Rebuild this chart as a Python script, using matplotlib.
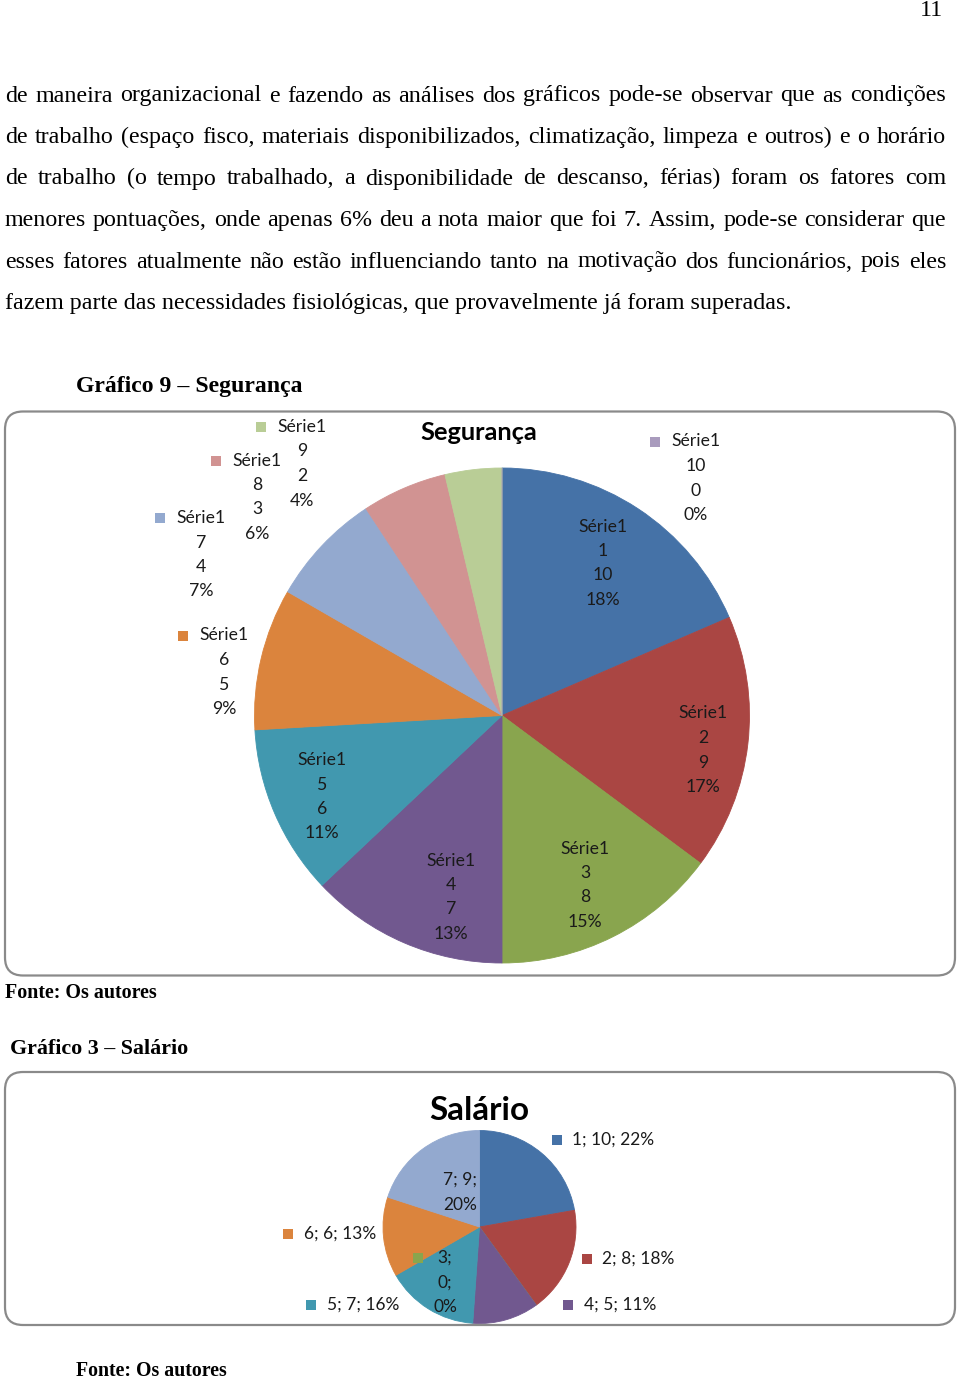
import matplotlib
matplotlib.use('Agg')
import matplotlib.pyplot as plt
from matplotlib.patches import FancyBboxPatch, Rectangle

# ---------------- data ----------------
body_lines = [
    "de maneira organizacional e fazendo as análises dos gráficos pode-se observar que as condições",
    "de trabalho (espaço fisco, materiais disponibilizados, climatização, limpeza e outros) e o horário",
    "de trabalho (o tempo trabalhado, a disponibilidade de descanso, férias) foram os fatores com",
    "menores pontuações, onde apenas 6% deu a nota maior que foi 7. Assim, pode-se considerar que",
    "esses fatores atualmente não estão influenciando tanto na motivação dos funcionários, pois eles",
    "fazem parte das necessidades fisiológicas, que provavelmente já foram superadas.",
]
page_number = "11"

seg_series = "Série1"
seg_categories = ["1", "2", "3", "4", "5", "6", "7", "8", "9", "10"]
seg_values = [10, 9, 8, 7, 6, 5, 4, 3, 2, 0]
seg_pct = [18, 17, 15, 13, 11, 9, 7, 6, 4, 0]

sal_categories = ["1", "2", "3", "4", "5", "6", "7"]
sal_values = [10, 8, 0, 5, 7, 6, 9]
sal_pct = [22, 18, 0, 11, 16, 13, 20]

palette = ['#4572A7', '#AA4643', '#89A54E', '#71588F', '#4198AF',
           '#DB843D', '#93A9CF', '#D19392', '#B9CD96', '#A99BBD']

# ---------------- figure ----------------
W, H = 960, 1379
fig = plt.figure(figsize=(W / 100, H / 100), dpi=100)
fig.patch.set_facecolor('white')
renderer = fig.canvas.get_renderer()


def axes_px(x0, y0, w, h):
    return fig.add_axes([x0 / W, 1 - (y0 + h) / H, w / W, h / H])


def draw_pie(ax, values, colors):
    wedges, _ = ax.pie(values, colors=colors, startangle=90, counterclock=False,
                       wedgeprops=dict(linewidth=0.6))
    for w in wedges:
        w.set_edgecolor(w.get_facecolor())
    ax.set_xlim(-1, 1)
    ax.set_ylim(-1, 1)
    ax.set_aspect('equal')
    ax.axis('off')


# Pie 1 - Segurança
R1, C1 = 247.5, (502, 715.5)
ax1 = axes_px(C1[0] - R1, C1[1] - R1, 2 * R1, 2 * R1)
draw_pie(ax1, seg_values, palette[:len(seg_values)])

# Pie 2 - Salário
R2, C2 = 96.5, (479.5, 1227)
ax2 = axes_px(C2[0] - R2, C2[1] - R2, 2 * R2, 2 * R2)
draw_pie(ax2, sal_values, palette[:len(sal_values)])

# overlay in pixel coordinates
ov = fig.add_axes([0, 0, 1, 1])
ov.set_xlim(0, W)
ov.set_ylim(H, 0)
ov.axis('off')
ov.patch.set_alpha(0)

SERIF = 'Liberation Serif'
SANS = 'Lato'
TXT = '#1a1a1a'


def width_of(t):
    return t.get_window_extent(renderer=renderer).width


def fit(x, y, s, width, **kw):
    t = ov.text(x, y, s, fontsize=10, **kw)
    t.set_fontsize(10 * width / width_of(t))
    return t


def size_for(s, width, family, weight='normal'):
    t = ov.text(0, 0, s, fontsize=10, family=family, weight=weight)
    w = width_of(t)
    t.remove()
    return 10 * width / w


# ---------------- body text (justified) ----------------
body_fs = size_for(body_lines[-1], 785, SERIF)
left, right = 5, 946
base0, step = 101.5, 41.5
for i, line in enumerate(body_lines):
    y = base0 + i * step
    if i == len(body_lines) - 1:
        ov.text(left, y, line, family=SERIF, fontsize=body_fs, color='black',
                ha='left', va='baseline')
        continue
    words = line.split(' ')
    objs = [ov.text(0, y, w_, family=SERIF, fontsize=body_fs, color='black',
                    ha='left', va='baseline') for w_ in words]
    widths = [width_of(o) for o in objs]
    gap = (right - left - sum(widths)) / (len(words) - 1)
    x = left
    for o, wd in zip(objs, widths):
        o.set_x(x)
        x += wd + gap

ov.text(943, 16.5, page_number, family=SERIF, fontsize=body_fs, color='black',
        ha='right', va='baseline')

# ---------------- captions ----------------
fit(76, 392, "Gráfico 9 – Segurança", 227, family=SERIF, weight='bold',
    ha='left', va='baseline', color='black')
fit(5, 997.5, "Fonte: Os autores", 152, family=SERIF, weight='bold',
    ha='left', va='baseline', color='black')
fit(10, 1054, "Gráfico 3 – Salário", 178, family=SERIF, weight='bold',
    ha='left', va='baseline', color='black')
fit(76, 1375.5, "Fonte: Os autores", 151, family=SERIF, weight='bold',
    ha='left', va='baseline', color='black')

# ---------------- chart frames ----------------
for (x0, y0, x1, y1) in [(5, 411.5, 955, 975.5), (5, 1072, 955, 1325)]:
    ov.add_patch(FancyBboxPatch((x0, y0), x1 - x0, y1 - y0,
                                boxstyle="round,pad=0,rounding_size=18",
                                fc='none', ec='#8a8a8a', lw=1.6))

# chart titles
fit(479, 440, "Segurança", 117, family=SANS, weight='bold', ha='center',
    va='baseline', color='black')
fit(479.5, 1120.5, "Salário", 100, family=SANS, weight='bold', ha='center',
    va='baseline', color='black')

# ---------------- Pie 1 labels ----------------
lab_fs = size_for(seg_series, 49.5, SANS)
dy1 = 24.5
# (x center, y of first line, legend key?) per category
seg_label_pos = [
    (603, 526.5, False),
    (703, 713.5, False),
    (585, 848.5, False),
    (451, 860.5, False),
    (322, 760, False),
    (224, 635.5, True),
    (201, 518, True),
    (257, 460.5, True),
    (302, 427, True),
    (696, 441.5, True),
]
for k, (cat, val, pct) in enumerate(zip(seg_categories, seg_values, seg_pct)):
    x, y0, key = seg_label_pos[k]
    lines = [seg_series, cat, str(val), f"{pct}%"]
    for j, s in enumerate(lines):
        ov.text(x, y0 + j * dy1, s, family=SANS, fontsize=lab_fs, color=TXT,
                ha='center', va='center')
    if key:
        ov.add_patch(Rectangle((x - 46, y0 - 5), 10, 10, color=palette[k], lw=0))

# ---------------- Pie 2 labels ----------------
lab2_fs = size_for("1; 10; 22%", 82.5, SANS)
# (text x, y, kind) kind: 'key' = key + single line, 'in' = centered stacked
sal_label_pos = [
    (572.5, 1140, 'key'),
    (602.5, 1259, 'key'),
    (445, 1258, 'stack'),
    (584, 1305, 'key'),
    (327, 1305, 'key'),
    (304, 1234, 'key'),
    (460, 1180, 'stack'),
]
for k, (cat, val, pct) in enumerate(zip(sal_categories, sal_values, sal_pct)):
    x, y, kind = sal_label_pos[k]
    if kind == 'key':
        ov.text(x, y, f"{cat}; {val}; {pct}%", family=SANS, fontsize=lab2_fs,
                color=TXT, ha='left', va='center')
        ov.add_patch(Rectangle((x - 21, y - 5), 10, 10, color=palette[k], lw=0))
    else:
        parts = [f"{cat};", f"{val};", f"{pct}%"]
        if k == 6:
            parts = [f"{cat}; {val};", f"{pct}%"]
        for j, s in enumerate(parts):
            ov.text(x, y + j * 24.5, s, family=SANS, fontsize=lab2_fs, color=TXT,
                    ha='center', va='center')
        if k == 2:
            ov.add_patch(Rectangle((x - 32, y - 5), 10, 10, color=palette[k], lw=0))

fig.savefig('out.png', dpi=100, facecolor='white')
